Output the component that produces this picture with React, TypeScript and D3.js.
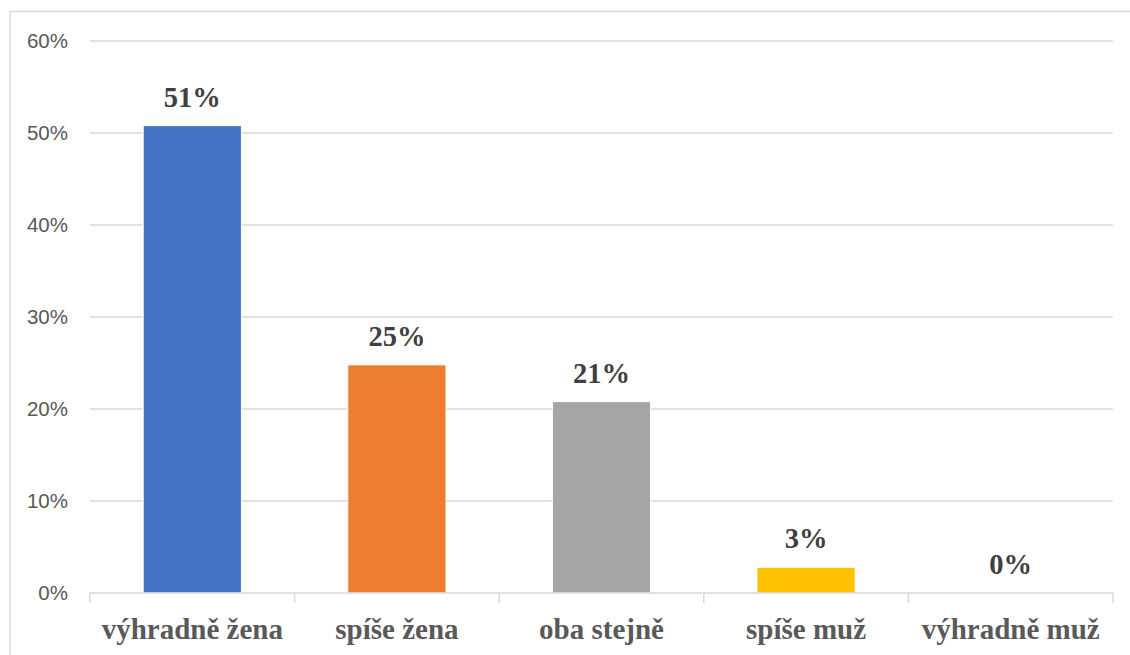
import React from "react";
import * as d3 from "d3";

const categories = ["výhradně žena", "spíše žena", "oba stejně", "spíše muž", "výhradně muž"];
const values = [0.508, 0.248, 0.208, 0.028, 0.0];
const labels = ["51%", "25%", "21%", "3%", "0%"];
const colors = ["#4472C4", "#ED7D31", "#A5A5A5", "#FFC000", "#5B9BD5"];
const yTicks = [0, 0.1, 0.2, 0.3, 0.4, 0.5, 0.6];

const W = 1130;
const H = 655;
const plot = { left: 90, right: 1113, top: 41, bottom: 593 };

export default function App() {
  const x = d3
    .scaleBand<string>()
    .domain(categories)
    .range([plot.left, plot.right])
    .paddingInner(0.52)
    .paddingOuter(0.26);
  const band = d3.scaleBand<string>().domain(categories).range([plot.left, plot.right]);
  const y = d3.scaleLinear().domain([0, 0.6]).range([plot.bottom, plot.top]);
  const fmt = d3.format(".0%");
  const serif = "'Liberation Serif', 'Times New Roman', serif";
  const sans = "'Liberation Sans', Arial, sans-serif";

  const boundaries = [...categories.map((c) => band(c) as number), plot.right];

  return (
    <svg
      width={W}
      height={H}
      style={{ position: "absolute", left: 0, top: 0, background: "#fff" }}
    >
      <rect x={10} y={11.5} width={1130} height={700} fill="#fff" stroke="#d9d9d9" strokeWidth={1.5} />
      {yTicks.map((t) => (
        <g key={t}>
          {t > 0 && (
            <line x1={plot.left} x2={plot.right} y1={y(t)} y2={y(t)} stroke="#d9d9d9" strokeWidth={1.5} />
          )}
          <text
            x={68}
            y={y(t)}
            dy="0.35em"
            textAnchor="end"
            fontFamily={sans}
            fontSize={20.5}
            fill="#595959"
          >
            {fmt(t)}
          </text>
        </g>
      ))}
      {categories.map((c, i) => (
        <g key={c}>
          <rect
            x={x(c)}
            y={y(values[i])}
            width={x.bandwidth()}
            height={plot.bottom - y(values[i])}
            fill={colors[i]}
            stroke="#fff"
            strokeWidth={values[i] > 0 ? 1 : 0}
          />
          <text
            x={(x(c) as number) + x.bandwidth() / 2}
            y={y(values[i]) - 19}
            textAnchor="middle"
            fontFamily={serif}
            fontWeight="bold"
            fontSize={28.5}
            fill="#404040"
          >
            {labels[i]}
          </text>
          <text
            x={(band(c) as number) + band.bandwidth() / 2}
            y={639}
            textAnchor="middle"
            fontFamily={serif}
            fontWeight="bold"
            fontSize={29}
            fill="#595959"
          >
            {c}
          </text>
        </g>
      ))}
      <line x1={plot.left} x2={plot.right} y1={plot.bottom} y2={plot.bottom} stroke="#d9d9d9" strokeWidth={1.5} />
      {boundaries.map((b, i) => (
        <line key={i} x1={b} x2={b} y1={plot.bottom} y2={plot.bottom + 10} stroke="#d9d9d9" strokeWidth={1.5} />
      ))}
    </svg>
  );
}
